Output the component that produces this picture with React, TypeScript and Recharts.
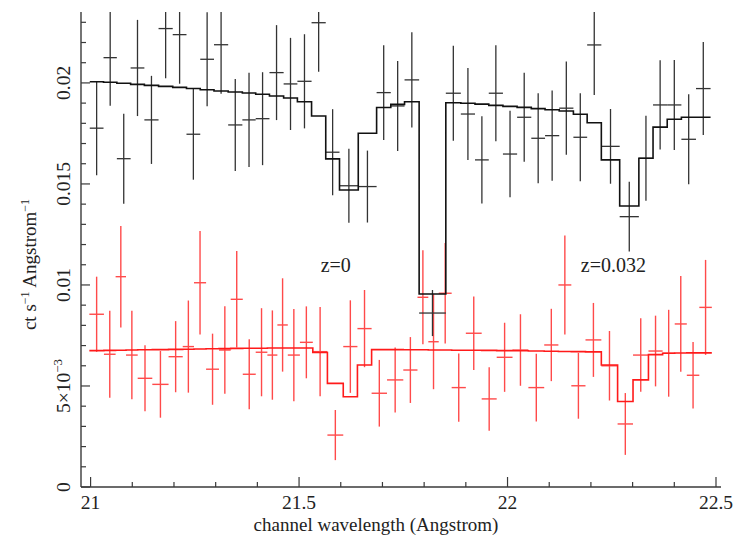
import React from 'react';
import { ComposedChart, Scatter, Line, XAxis, YAxis, ErrorBar, ReferenceDot } from 'recharts';

// black spectrum: bin edges (Angstrom), flux, 1-sigma error, model
const blackEdges = [
  20.998, 21.031, 21.063, 21.096, 21.129, 21.163, 21.197, 21.23, 21.263, 21.296,
  21.33, 21.364, 21.396, 21.429, 21.463, 21.496, 21.53, 21.564, 21.597, 21.642,
  21.686, 21.72, 21.753, 21.788, 21.852, 21.888, 21.922, 21.955, 21.989, 22.023,
  22.057, 22.09, 22.124, 22.158, 22.191, 22.225, 22.269, 22.315, 22.349, 22.383,
  22.417, 22.452, 22.487,
];
const blackFlux = [
  0.01776, 0.02125, 0.01625, 0.02074, 0.01817, 0.02269, 0.02239, 0.01746, 0.02117, 0.02189,
  0.01792, 0.01817, 0.01823, 0.02051, 0.01995, 0.02008, 0.02298, 0.01657, 0.01491, 0.01487,
  0.01952, 0.01886, 0.02015, 0.00861, 0.01949, 0.01846, 0.01619, 0.01949, 0.01648, 0.0183,
  0.01726, 0.01739, 0.01875, 0.01731, 0.02188, 0.01686, 0.01338, 0.01627, 0.01891, 0.01891,
  0.01721, 0.01972,
];
const blackErr = [
  0.00233, 0.00238, 0.00223, 0.00238, 0.00218, 0.00246, 0.00243, 0.00225, 0.00233, 0.00243,
  0.00228, 0.00233, 0.0023, 0.00235, 0.00228, 0.00233, 0.00243, 0.00213, 0.00183, 0.00178,
  0.00235, 0.00223, 0.00236, 0.00114, 0.00235, 0.00228, 0.00216, 0.00238, 0.00214, 0.0022,
  0.00223, 0.00223, 0.00231, 0.00218, 0.00248, 0.00185, 0.00173, 0.0021, 0.00221, 0.00223,
  0.00223, 0.0023,
];
const blackModel = [
  0.02006, 0.02003, 0.01998, 0.01993, 0.01988, 0.01983, 0.01978, 0.01972, 0.01966, 0.0196,
  0.01955, 0.0195, 0.01944, 0.01935, 0.01925, 0.01907, 0.01836, 0.01624, 0.0147, 0.01751,
  0.01878, 0.01894, 0.01907, 0.00955, 0.01902, 0.01899, 0.01895, 0.01889, 0.01884, 0.01879,
  0.01873, 0.01867, 0.01861, 0.01845, 0.01803, 0.01619, 0.01391, 0.01627, 0.01781, 0.0182,
  0.0183, 0.0183,
];

// red spectrum
const redEdges = [
  20.997, 21.032, 21.06, 21.085, 21.113, 21.148, 21.187, 21.221, 21.248, 21.277,
  21.308, 21.336, 21.365, 21.396, 21.424, 21.448, 21.473, 21.502, 21.533, 21.568,
  21.606, 21.64, 21.674, 21.711, 21.75, 21.784, 21.81, 21.835, 21.866, 21.9,
  21.938, 21.974, 22.012, 22.05, 22.088, 22.122, 22.153, 22.187, 22.225, 22.264,
  22.301, 22.338, 22.372, 22.401, 22.43, 22.46, 22.49,
];
const redFlux = [
  0.00855, 0.00657, 0.01041, 0.00653, 0.00538, 0.00508, 0.00645, 0.00695, 0.01011, 0.00583,
  0.00678, 0.00929, 0.00558, 0.00667, 0.00653, 0.00802, 0.00653, 0.00716, 0.0067, 0.00257,
  0.00695, 0.00784, 0.00464, 0.0053, 0.00579, 0.00939, 0.00719, 0.00959, 0.00492, 0.00761,
  0.00436, 0.00642, 0.00678, 0.00492, 0.00703, 0.01, 0.00501, 0.00728, 0.006, 0.00312,
  0.00653, 0.00673, 0.00662, 0.00807, 0.00553, 0.00889,
];
const redErr = [
  0.00186, 0.00215, 0.00251, 0.00219, 0.00163, 0.00165, 0.00176, 0.00228, 0.00256, 0.00176,
  0.00216, 0.00239, 0.00173, 0.00218, 0.00221, 0.00231, 0.00228, 0.00178, 0.00221, 0.00124,
  0.00229, 0.00191, 0.00165, 0.00161, 0.00163, 0.00233, 0.00235, 0.00249, 0.00169, 0.00182,
  0.00157, 0.00171, 0.00177, 0.00168, 0.00179, 0.00245, 0.00163, 0.00183, 0.00172, 0.00153,
  0.00182, 0.00175, 0.00215, 0.00237, 0.00165, 0.00235,
];
const redModel = [
  0.00675, 0.00676, 0.00677, 0.00678, 0.00679, 0.0068, 0.00681, 0.00682, 0.00683, 0.00684,
  0.00685, 0.00686, 0.00687, 0.00687, 0.00688, 0.00688, 0.00688, 0.00688, 0.00666, 0.00513,
  0.00447, 0.00604, 0.0068, 0.0068, 0.00679, 0.00679, 0.00678, 0.00678, 0.00677, 0.00677,
  0.00676, 0.00675, 0.00674, 0.00673, 0.00672, 0.00671, 0.0067, 0.00669, 0.00604, 0.00423,
  0.0053, 0.00655, 0.00662, 0.00663, 0.00664, 0.00664,
];

const X_DOMAIN = [20.977, 22.512];
const Y_DOMAIN = [0, 0.02351];

const xTicks = [21, 21.1, 21.2, 21.3, 21.4, 21.5, 21.6, 21.7, 21.8, 21.9, 22, 22.1, 22.2, 22.3, 22.4, 22.5];
const xTickLabels: Record<string, string> = { '21': '21', '21.5': '21.5', '22': '22', '22.5': '22.5' };
const yTicks = [
  0, 0.001, 0.002, 0.003, 0.004, 0.005, 0.006, 0.007, 0.008, 0.009, 0.01, 0.011,
  0.012, 0.013, 0.014, 0.015, 0.016, 0.017, 0.018, 0.019, 0.02, 0.021, 0.022, 0.023,
];
const yTickLabels: Record<string, string> = { '0': '0', '0.005': '5×10', '0.01': '0.01', '0.015': '0.015', '0.02': '0.02' };

const zLabels = [
  { x: 21.588, y: 0.01066, text: 'z=0' },
  { x: 22.254, y: 0.01066, text: 'z=0.032' },
];

const FONT = "'Liberation Serif', 'Times New Roman', serif";
const FRAME = '#3a3a3a';

// error bars are cut at the top of the frame, like the plot window does
function binPoints(edges: number[], flux: number[], err: number[]) {
  return flux.map((f, i) => ({
    x: (edges[i] + edges[i + 1]) / 2,
    y: f,
    xErr: (edges[i + 1] - edges[i]) / 2,
    yErr: [err[i], Math.max(0, Math.min(err[i], Y_DOMAIN[1] - f))],
  }));
}

function stepPoints(edges: number[], model: number[]) {
  const pts: { x: number; y: number }[] = [];
  model.forEach((m, i) => {
    pts.push({ x: edges[i], y: m });
    pts.push({ x: edges[i + 1], y: m });
  });
  return pts;
}

const blackData = binPoints(blackEdges, blackFlux, blackErr);
const redData = binPoints(redEdges, redFlux, redErr);
const blackStep = stepPoints(blackEdges, blackModel);
const redStep = stepPoints(redEdges, redModel);

const textStyle = { fontFamily: FONT };

const BottomTick = ({ x, y, payload }: any) => {
  const label = xTickLabels[String(payload.value)];
  return (
    <g>
      <line x1={x} x2={x} y1={y} y2={y - (label ? 10 : 5)} stroke={FRAME} strokeWidth={1.2} />
      {label && (
        <text x={x} y={y + 22} textAnchor="middle" fontSize={19.5} style={textStyle} fill="#222">
          {label}
        </text>
      )}
    </g>
  );
};

const TopTick = ({ x, y, payload }: any) => {
  const major = xTickLabels[String(payload.value)];
  return <line x1={x} x2={x} y1={y} y2={y + (major ? 10 : 5)} stroke={FRAME} strokeWidth={1.2} />;
};

const LeftTick = ({ x, y, payload }: any) => {
  const label = yTickLabels[String(payload.value)];
  const tx = x - 11;
  return (
    <g>
      <line x1={x} x2={x + (label ? 9 : 5)} y1={y} y2={y} stroke={FRAME} strokeWidth={1.2} />
      {label && (
        <text
          x={tx}
          y={y}
          transform={`rotate(-90 ${tx} ${y})`}
          textAnchor="middle"
          fontSize={19.5}
          style={textStyle}
          fill="#222"
        >
          {label}
          {payload.value === 0.005 && (
            <tspan dy={-8} fontSize={13}>
              −3
            </tspan>
          )}
        </text>
      )}
    </g>
  );
};

const RightTick = ({ x, y, payload }: any) => {
  const major = yTickLabels[String(payload.value)];
  return <line x1={x} x2={x - (major ? 9 : 5)} y1={y} y2={y} stroke={FRAME} strokeWidth={1.2} />;
};

const XTitle = ({ viewBox }: any) => (
  <text
    x={viewBox.x + viewBox.width / 2 - 25}
    y={viewBox.y + 44}
    textAnchor="middle"
    fontSize={19}
    style={textStyle}
    fill="#222"
  >
    channel wavelength (Angstrom)
  </text>
);

const YTitle = ({ viewBox }: any) => {
  const tx = 36;
  const ty = viewBox.y + viewBox.height / 2 + 15;
  return (
    <text x={tx} y={ty} transform={`rotate(-90 ${tx} ${ty})`} textAnchor="middle" fontSize={19} style={textStyle} fill="#222">
      ct s
      <tspan dy={-7} fontSize={12}>
        −1
      </tspan>
      <tspan dy={7}> Angstrom</tspan>
      <tspan dy={-7} fontSize={12}>
        −1
      </tspan>
    </text>
  );
};

const zLabel = (text: string) => ({ viewBox }: any) => (
  <text x={viewBox.x} y={viewBox.y} textAnchor="middle" fontSize={20} style={textStyle} fill="#222">
    {text}
  </text>
);

const noShape = () => <g />;
const axisLine = { stroke: FRAME, strokeWidth: 1.4 };

export default function App() {
  return (
    <div style={{ position: 'absolute', left: 0, top: 0, background: '#fff' }}>
      <ComposedChart width={736} height={537} margin={{ top: 12, right: 15, bottom: 0, left: 0 }}>
        <XAxis
          xAxisId={0}
          dataKey="x"
          type="number"
          domain={X_DOMAIN}
          allowDataOverflow
          ticks={xTicks}
          interval={0}
          height={50}
          tickSize={0}
          tickMargin={0}
          tickLine={false}
          axisLine={axisLine}
          tick={BottomTick}
          label={{ content: XTitle }}
        />
        <XAxis
          xAxisId="top"
          orientation="top"
          type="number"
          domain={X_DOMAIN}
          allowDataOverflow
          ticks={xTicks}
          interval={0}
          height={0}
          tickSize={0}
          tickMargin={0}
          tickLine={false}
          axisLine={axisLine}
          tick={TopTick}
        />
        <YAxis
          yAxisId={0}
          type="number"
          domain={Y_DOMAIN}
          allowDataOverflow
          ticks={yTicks}
          interval={0}
          width={81}
          tickSize={0}
          tickMargin={0}
          tickLine={false}
          axisLine={axisLine}
          tick={LeftTick}
          label={{ content: YTitle }}
        />
        <YAxis
          yAxisId="right"
          orientation="right"
          type="number"
          domain={Y_DOMAIN}
          allowDataOverflow
          ticks={yTicks}
          interval={0}
          width={0}
          tickSize={0}
          tickMargin={0}
          tickLine={false}
          axisLine={axisLine}
          tick={RightTick}
        />

        <Scatter data={redData} dataKey="y" shape={noShape} isAnimationActive={false}>
          <ErrorBar dataKey="yErr" direction="y" width={0} stroke="#ff4a4a" strokeWidth={1.4} />
          <ErrorBar dataKey="xErr" direction="x" width={0} stroke="#ff4a4a" strokeWidth={1.4} />
        </Scatter>
        <Scatter data={blackData} dataKey="y" shape={noShape} isAnimationActive={false}>
          <ErrorBar dataKey="yErr" direction="y" width={0} stroke="#333" strokeWidth={1.3} />
          <ErrorBar dataKey="xErr" direction="x" width={0} stroke="#333" strokeWidth={1.3} />
        </Scatter>
        <Line
          data={redStep}
          dataKey="y"
          type="linear"
          dot={false}
          stroke="#ff1a1a"
          strokeWidth={1.6}
          isAnimationActive={false}
        />
        <Line
          data={blackStep}
          dataKey="y"
          type="linear"
          dot={false}
          stroke="#111"
          strokeWidth={1.6}
          isAnimationActive={false}
        />
        {zLabels.map((z) => (
          <ReferenceDot
            key={z.text}
            x={z.x}
            y={z.y}
            r={0}
            fill="none"
            stroke="none"
            ifOverflow="visible"
            label={{ content: zLabel(z.text) }}
          />
        ))}
      </ComposedChart>
    </div>
  );
}
